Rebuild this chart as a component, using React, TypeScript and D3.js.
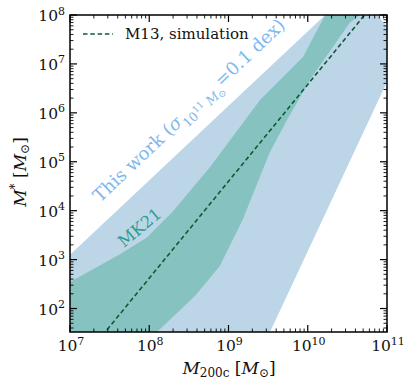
import * as d3 from "d3";

// log10 values
const haloLog = [7, 11];
const m13Log = [0.64, 8.56];

const thisWorkUpperX = [7.0, 10.22, 10.6];
const thisWorkUpperY = [3.1, 8.0, 8.6];
const thisWorkLowerX = [11.2, 9.524, 9.0, 7.0];
const thisWorkLowerY = [7.33, 1.52, -0.3, -0.3];

const mk21UpperX = [7.0, 7.63, 7.97, 8.3, 8.77, 9.4, 9.94, 10.22, 10.4];
const mk21UpperY = [2.54, 3.11, 3.45, 3.99, 4.9, 6.27, 7.14, 8.0, 8.5];
const mk21LowerX = [10.8, 10.66, 10.53, 10.03, 9.74, 9.52, 9.18, 8.89, 8.58, 8.11, 8.0, 7.0];
const mk21LowerY = [8.3, 8.0, 7.84, 6.68, 5.86, 5.19, 3.82, 2.87, 2.26, 1.54, 1.37, 1.0];

const xTickExp = [7, 8, 9, 10, 11];
const yTickExp = [2, 3, 4, 5, 6, 7, 8];

const W = 415,
  H = 391;
const margin = { left: 70, right: 28, top: 15, bottom: 59 };
const font = "DejaVu Serif";

export default function App() {
  const x = d3
    .scaleLog()
    .domain([1e7, 1e11])
    .range([margin.left, W - margin.right]);
  const y = d3
    .scaleLog()
    .domain([Math.pow(10, 1.52), 1e8])
    .range([H - margin.bottom, margin.top]);

  const [x0, x1] = x.range();
  const [y0, y1] = y.range();

  const line = d3
    .line<[number, number]>()
    .x((d) => x(Math.pow(10, d[0])))
    .y((d) => y(Math.pow(10, d[1])));

  const poly = (ux: number[], uy: number[], lx: number[], ly: number[]) => {
    const pts: [number, number][] = ux.map((v, i) => [v, uy[i]]);
    lx.forEach((v, i) => pts.push([v, ly[i]]));
    return line(pts) + "Z";
  };

  const blue = poly(thisWorkUpperX, thisWorkUpperY, thisWorkLowerX, thisWorkLowerY);
  const teal = poly(mk21UpperX, mk21UpperY, mk21LowerX, mk21LowerY);
  const m13 = line(haloLog.map((v, i) => [v, m13Log[i]]));

  // minor ticks
  const xMinor: number[] = [];
  for (let e = 7; e < 11; e++) for (let k = 2; k < 10; k++) xMinor.push(k * Math.pow(10, e));
  const yMinor: number[] = [];
  for (let e = 1; e < 8; e++)
    for (let k = 2; k < 10; k++) {
      const v = k * Math.pow(10, e);
      if (v >= y.domain()[0] && v <= 1e8) yMinor.push(v);
    }

  const major = 7,
    minor = 3.5;

  return (
    <svg width={W} height={H} style={{ display: "block", position: "absolute", left: 0, top: 0 }}>
      <defs>
        <clipPath id="plot">
          <rect x={x0} y={y1} width={x1 - x0} height={y0 - y1} />
        </clipPath>
      </defs>
      <rect width={W} height={H} fill="#fff" />
      <g clipPath="url(#plot)">
        <path d={blue} fill="#bcd6e8" />
        <path d={teal} fill="#86c3c0" />
        <path d={m13 || ""} fill="none" stroke="#0f5a33" strokeWidth={1.6} strokeDasharray="4.5,2.8" />
      </g>

      {/* ticks */}
      <g stroke="#000" strokeWidth={0.9}>
        {xMinor.map((v, i) => (
          <g key={"xm" + i}>
            <line x1={x(v)} x2={x(v)} y1={y0} y2={y0 - minor} />
            <line x1={x(v)} x2={x(v)} y1={y1} y2={y1 + minor} />
          </g>
        ))}
        {yMinor.map((v, i) => (
          <g key={"ym" + i}>
            <line x1={x0} x2={x0 + minor} y1={y(v)} y2={y(v)} />
            <line x1={x1} x2={x1 - minor} y1={y(v)} y2={y(v)} />
          </g>
        ))}
        {xTickExp.map((e) => (
          <g key={"xM" + e}>
            <line x1={x(Math.pow(10, e))} x2={x(Math.pow(10, e))} y1={y0} y2={y0 - major} strokeWidth={1.2} />
            <line x1={x(Math.pow(10, e))} x2={x(Math.pow(10, e))} y1={y1} y2={y1 + major} strokeWidth={1.2} />
          </g>
        ))}
        {yTickExp.map((e) => (
          <g key={"yM" + e}>
            <line x1={x0} x2={x0 + major} y1={y(Math.pow(10, e))} y2={y(Math.pow(10, e))} strokeWidth={1.2} />
            <line x1={x1} x2={x1 - major} y1={y(Math.pow(10, e))} y2={y(Math.pow(10, e))} strokeWidth={1.2} />
          </g>
        ))}
      </g>
      <rect x={x0} y={y1} width={x1 - x0} height={y0 - y1} fill="none" stroke="#000" strokeWidth={1.5} />

      {/* tick labels */}
      <g fontFamily={font} fontSize={15.5} fill="#111">
        {xTickExp.map((e) => (
          <text key={"xl" + e} x={x(Math.pow(10, e)) + 1} y={y0 + 19} textAnchor="middle">
            10
            <tspan fontSize={11} dy={-6.5}>
              {e}
            </tspan>
          </text>
        ))}
        {yTickExp.map((e) => (
          <text key={"yl" + e} x={x0 - 5} y={y(Math.pow(10, e)) + 6} textAnchor="end">
            10
            <tspan fontSize={11} dy={-6.5}>
              {e}
            </tspan>
          </text>
        ))}
      </g>

      {/* axis labels */}
      <text x={229} y={374} textAnchor="middle" fontFamily={font} fontSize={17} fill="#111">
        <tspan fontStyle="italic">M</tspan>
        <tspan fontSize={12} dy={3}>200c</tspan>
        <tspan dy={-3}> [</tspan>
        <tspan fontStyle="italic">M</tspan>
        <tspan fontSize={12} dy={3}>⊙</tspan>
        <tspan dy={-3}>]</tspan>
      </text>
      <text
        transform="translate(26,172) rotate(-90)"
        textAnchor="middle"
        fontFamily={font}
        fontSize={17}
        fill="#111"
      >
        <tspan fontStyle="italic">M</tspan>
        <tspan fontSize={12} dy={-7}>*</tspan>
        <tspan dy={7}> [</tspan>
        <tspan fontStyle="italic">M</tspan>
        <tspan fontSize={12} dy={3}>⊙</tspan>
        <tspan dy={-3}>]</tspan>
      </text>

      {/* legend */}
      <line x1={83} x2={113} y1={34} y2={34} stroke="#0f5a33" strokeWidth={1.6} strokeDasharray="4.5,2.8" />
      <text x={125} y={39} fontFamily={font} fontSize={15} fill="#111">
        M13, simulation
      </text>

      {/* band labels */}
      <text transform="translate(100,203) rotate(-43.5)" fontFamily={font} fontSize={18} fill="#80b8ee">
        This work (<tspan fontStyle="italic">σ</tspan>
        <tspan fontSize={12.5} dy={6}>10</tspan>
        <tspan fontSize={9.5} dy={-5}>11</tspan>
        <tspan fontSize={12.5} dy={5} fontStyle="italic"> M</tspan>
        <tspan fontSize={9.5} dy={2}>⊙</tspan>
        <tspan dy={-8}>=0.1 dex)</tspan>
      </text>
      <text transform="translate(124,248) rotate(-40)" fontFamily={font} fontSize={16.5} fill="#2e9e8c">
        MK21
      </text>
    </svg>
  );
}
